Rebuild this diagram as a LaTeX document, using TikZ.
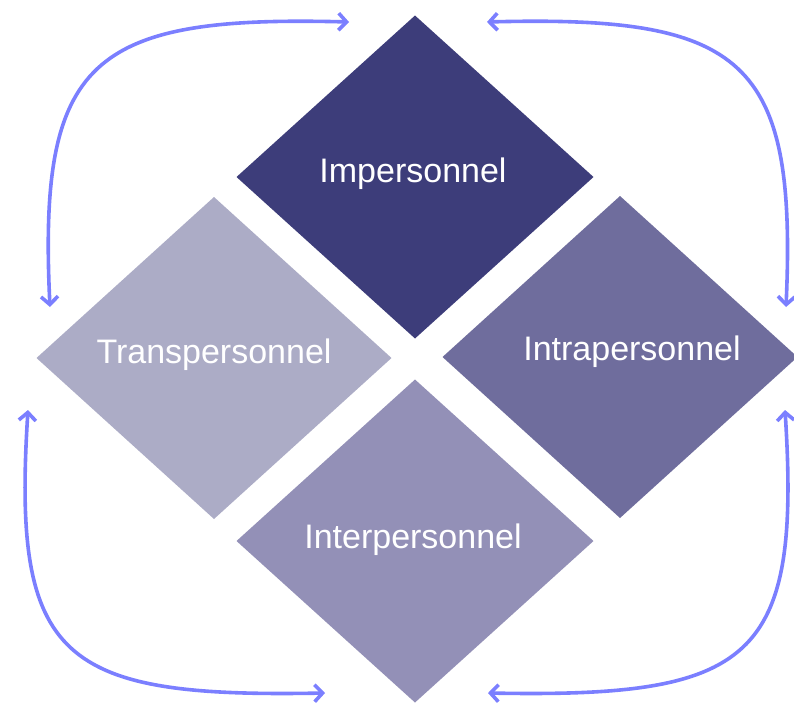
\documentclass[tikz,border=0pt]{standalone}
\usepackage{fontspec}
\setmainfont{Liberation Sans}
\usetikzlibrary{shapes.geometric,arrows.meta}
\definecolor{impcol}{HTML}{3D3D7A}
\definecolor{transcol}{HTML}{ACACC6}
\definecolor{intracol}{HTML}{6F6D9D}
\definecolor{intercol}{HTML}{9390B7}
\definecolor{arrcol}{HTML}{7B7FFF}

\begin{document}
\begin{tikzpicture}[x=1pt,y=-1pt,
    losange/.style={diamond,inner sep=0pt,outer sep=0pt,minimum width=357pt,minimum height=323pt},
    etiquette/.style={text=white,font=\fontsize{34}{40}\selectfont},
    fleche/.style={draw=arrcol,line width=3.6pt,{Straight Barb[length=8pt,width=17pt]}-{Straight Barb[length=8pt,width=17pt]}}]
        \useasboundingbox (0,0) rectangle (794,704);
        % les quatre losanges
        \node[losange,fill=impcol](imp) at (415,177){};
        \node[losange,fill=transcol,minimum width=355pt,minimum height=322pt](trans) at (214,358){};
        \node[losange,fill=intracol,minimum width=355pt,minimum height=322pt](intra) at (620,357){};
        \node[losange,fill=intercol](inter) at (415,541){};
        % les textes
        \node[etiquette](imptxt) at ([xshift=-2pt,yshift=3pt]imp){Impersonnel};
        \node[etiquette](transtxt) at ([yshift=3pt]trans){Transpersonnel};
        \node[etiquette](intratxt) at ([xshift=12pt,yshift=5pt]intra){Intrapersonnel};
        \node[etiquette](intertxt) at ([xshift=-2pt,yshift=1pt]inter){Interpersonnel};
        % extremites des fleches
        \coordinate (hg1) at (349,22);
        \coordinate (hg2) at (50,307);
        \coordinate (hd1) at (487,22);
        \coordinate (hd2) at (786,307);
        \coordinate (bg1) at (28,410);
        \coordinate (bg2) at (325,693);
        \coordinate (bd1) at (785,410);
        \coordinate (bd2) at (488,693);
        % les fleches courbes
        \draw[fleche](hg1) .. controls (90,15) and (38,60) .. (hg2);
        \draw[fleche](hd1) .. controls (745,15) and (797,60) .. (hd2);
        \draw[fleche](bg1) .. controls (12,660) and (60,698) .. (bg2);
        \draw[fleche](bd1) .. controls (801,660) and (753,698) .. (bd2);
    \end{tikzpicture}
\end{document}
